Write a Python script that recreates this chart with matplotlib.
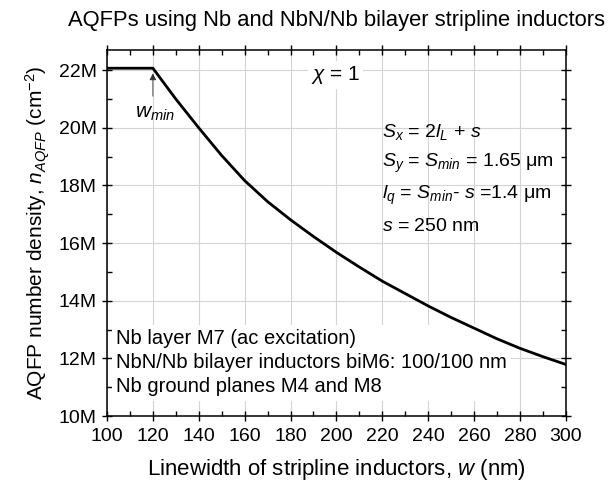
import numpy as np
import matplotlib
matplotlib.use("Agg")
import matplotlib.pyplot as plt
from matplotlib.ticker import MultipleLocator, FuncFormatter

plt.rcParams['font.family'] = ['Liberation Sans', 'DejaVu Sans']
plt.rcParams['mathtext.fontset'] = 'custom'
plt.rcParams['mathtext.rm'] = 'Liberation Sans'
plt.rcParams['mathtext.it'] = 'Liberation Sans:italic'
plt.rcParams['mathtext.bf'] = 'Liberation Sans:bold'

# linewidth of stripline inductors (nm) and AQFP number density (cm^-2)
width_nm = [100, 110, 120, 130, 140, 150, 160, 170, 180, 190, 200,
            210, 220, 230, 240, 250, 260, 270, 280, 290, 300]
density = [22.07e6, 22.07e6, 22.07e6, 21.0e6, 20.0e6, 19.04e6, 18.17e6,
           17.44e6, 16.81e6, 16.23e6, 15.68e6, 15.17e6, 14.68e6, 14.25e6,
           13.82e6, 13.42e6, 13.05e6, 12.68e6, 12.35e6, 12.06e6, 11.79e6]
w_min = 120

fig = plt.figure(figsize=(6.15, 4.86), dpi=100)
ax = fig.add_axes([0.174, 0.144, 0.746, 0.753])

ax.plot(width_nm, density, color='black', lw=2, zorder=3)

ax.set_xlim(100, 300)
ax.set_ylim(10e6, 22.7e6)
ax.xaxis.set_major_locator(MultipleLocator(20))
ax.xaxis.set_minor_locator(MultipleLocator(10))
ax.yaxis.set_major_locator(MultipleLocator(2e6))
ax.yaxis.set_minor_locator(MultipleLocator(1e6))
ax.yaxis.set_major_formatter(FuncFormatter(lambda v, p: f"{v / 1e6:.0f}M"))

ax.grid(True, which='major', color='#d4d4d4', lw=0.8, zorder=0)
ax.tick_params(which='major', direction='inout', length=7, width=1,
               labelsize=14, top=True, right=True)
ax.tick_params(axis='x', which='major', pad=5)
ax.tick_params(axis='y', which='major', pad=4)
ax.tick_params(which='minor', direction='in', length=3.5, width=1,
               top=True, right=True)
for sp in ax.spines.values():
    sp.set_linewidth(1.1)

ax.set_title('AQFPs using Nb and NbN/Nb bilayer stripline inductors',
             fontsize=15.8, pad=17)
ax.set_xlabel('Linewidth of stripline inductors, $w$ (nm)', fontsize=16,
              labelpad=9)
ax.set_ylabel('AQFP number density, $n_{AQFP}$ (cm$^{-2}$)', fontsize=15,
              labelpad=5)

# w_min marker
ax.annotate('', xy=(w_min, density[2] - 0.08e6), xytext=(w_min, 21.0e6),
            arrowprops=dict(arrowstyle='-|>', color='#333333', lw=0.6,
                            mutation_scale=10), zorder=4)
ax.text(112, 20.5e6, '$w_{min}$', fontsize=15, va='center', ha='left')

ax.text(189, 21.83e6, r'$\chi$ = 1', fontsize=15, va='center', ha='left',
        bbox=dict(facecolor='white', edgecolor='none', pad=2), zorder=4)

params = ['$S_x$ = 2$l_L$ + $s$',
          '$S_y$ = $S_{min}$ = 1.65 μm',
          '$l_q$ = $S_{min}$- $s$ =1.4 μm',
          '$s$ = 250 nm']
for i, t in enumerate(params):
    ax.text(220, 19.86e6 - i * 1.1e6, t, fontsize=14, va='center',
            ha='left', zorder=4)

layers = ['Nb layer M7 (ac excitation)',
          'NbN/Nb bilayer inductors biM6: 100/100 nm',
          'Nb ground planes M4 and M8']
ax.text(104, 11.85e6, '\n'.join(layers), fontsize=14.5, va='center',
        ha='left', linespacing=1.35, zorder=2,
        bbox=dict(facecolor='white', edgecolor='none', pad=3))

fig.savefig('out.png', dpi=100)
